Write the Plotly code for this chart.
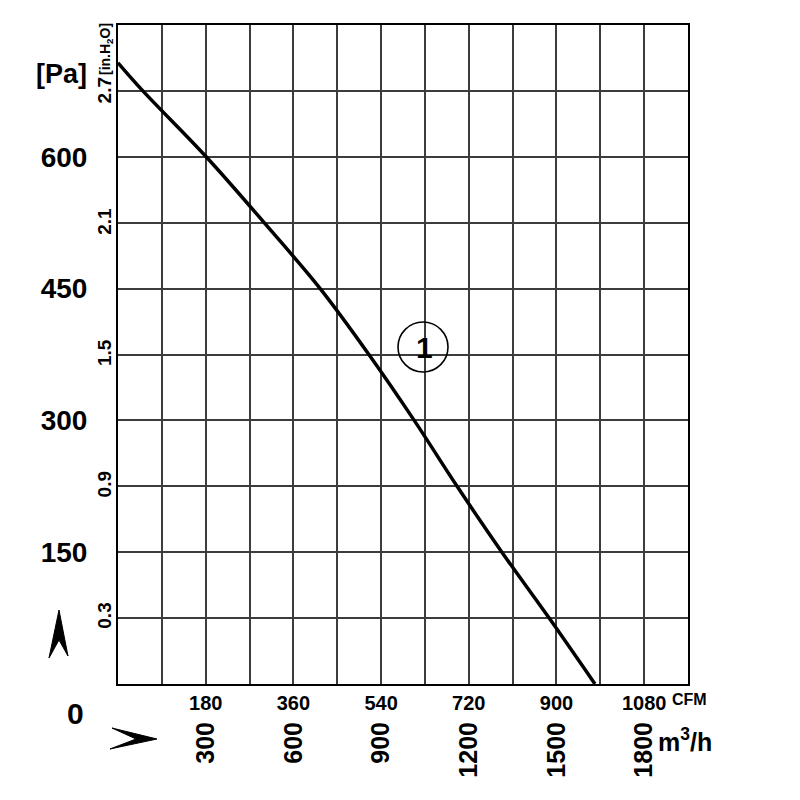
import plotly.graph_objects as go

# ---- data ----
airflow_cfm = [0, 51, 181, 300, 415, 515, 608, 696, 788, 885, 979]
pressure_pa = [707, 675, 600, 525, 450, 375, 300, 225, 150, 75, 0]

cfm_ticks = [180, 360, 540, 720, 900, 1080]
m3h_ticks = [300, 600, 900, 1200, 1500, 1800]
pa_ticks = [150, 300, 450, 600]
inh2o_ticks = [0.3, 0.9, 1.5, 2.1, 2.7]

X_MAX_CFM = 1170
X_MAX_M3H = 1950
Y_MAX_PA = 750
PA_PER_INH2O = 249.089

FONT = "Liberation Sans, Arial, sans-serif"

# plot area in screen pixels (page has an 8px body margin)
OFF = 8
L, R, T, B = 118, 688, 25, 684
W, H = R - L, B - T


def px(x):
    return (x - L) / W


def py(y):
    return (B - y) / H


fig = go.Figure()
fig.add_trace(go.Scatter(
    x=airflow_cfm, y=pressure_pa, mode="lines",
    line=dict(color="black", width=3.5, shape="spline", smoothing=1.0),
    showlegend=False, hoverinfo="skip",
))
# invisible traces to activate secondary axes
fig.add_trace(go.Scatter(x=[0], y=[0], xaxis="x2", yaxis="y", mode="markers",
                         marker=dict(opacity=0), showlegend=False, hoverinfo="skip"))
fig.add_trace(go.Scatter(x=[0], y=[0], xaxis="x", yaxis="y2", mode="markers",
                         marker=dict(opacity=0), showlegend=False, hoverinfo="skip"))

grid_col = "#3c3c3c"
fig.update_layout(
    width=800, height=800,
    margin=dict(l=L - OFF, r=800 - (R - OFF), t=T - OFF, b=800 - (B - OFF)),
    paper_bgcolor="white", plot_bgcolor="white",
    xaxis=dict(
        range=[0, X_MAX_CFM], tickvals=cfm_ticks, ticktext=[str(v) for v in cfm_ticks],
        ticks="", showgrid=False, zeroline=False, showline=True, linecolor="black",
        linewidth=2, mirror=True, ticklabelstandoff=0, automargin=False,
        tickfont=dict(family=FONT, size=20, color="black", weight=700),
        minor=dict(dtick=90, showgrid=True, gridcolor=grid_col, gridwidth=2, ticks=""),
    ),
    xaxis2=dict(
        overlaying="x", side="bottom", range=[0, X_MAX_M3H], tickvals=m3h_ticks,
        ticktext=[str(v) for v in m3h_ticks], tickangle=-90, ticks="",
        showgrid=False, zeroline=False, showline=False, ticklabelstandoff=32,
        automargin=False,
        tickfont=dict(family=FONT, size=25, color="black", weight=700),
    ),
    yaxis=dict(
        range=[0, Y_MAX_PA], tickvals=pa_ticks, ticktext=[str(v) for v in pa_ticks],
        ticks="", showgrid=False, zeroline=False, showline=True, linecolor="black",
        linewidth=2, mirror=True, ticklabelstandoff=23, automargin=False,
        tickfont=dict(family=FONT, size=28, color="black", weight=700),
        minor=dict(dtick=75, showgrid=True, gridcolor=grid_col, gridwidth=2, ticks=""),
    ),
    yaxis2=dict(
        overlaying="y", side="left", range=[0, Y_MAX_PA / PA_PER_INH2O],
        tickvals=inh2o_ticks, ticktext=[str(v) for v in inh2o_ticks], tickangle=-90,
        ticks="", showgrid=False, zeroline=False, showline=False, ticklabelstandoff=2,
        automargin=False,
        tickfont=dict(family=FONT, size=19, color="black", weight=700),
    ),
)

anns = [
    dict(text="[Pa]", x=px(61), y=py(74), size=27),
    dict(text="0", x=px(75), y=py(713), size=30),
    dict(text="CFM", x=px(689), y=py(699), size=16),
    dict(text="m<sup>3</sup>/h", x=px(685), y=py(740), size=25),
    dict(text="1", x=px(424), y=py(347), size=30),
]
for a in anns:
    fig.add_annotation(xref="paper", yref="paper", x=a["x"], y=a["y"], text=a["text"],
                       showarrow=False, xanchor="center", yanchor="middle",
                       font=dict(family=FONT, size=a["size"], color="black", weight=700))
fig.add_annotation(xref="paper", yref="paper", x=px(106), y=py(49),
                   text="[in.H<sub>2</sub>O]", textangle=-90, showarrow=False,
                   xanchor="center", yanchor="middle",
                   font=dict(family=FONT, size=14, color="black", weight=700))

# circle around the curve label
fig.add_shape(type="circle", xref="paper", yref="paper",
              x0=px(398), x1=px(448), y0=py(322), y1=py(372),
              line=dict(color="black", width=1.6))


def path(points):
    s = "M " + " L ".join(f"{px(a):.5f},{py(b):.5f}" for a, b in points) + " Z"
    return s


# chevron arrows
fig.add_shape(type="path", xref="paper", yref="paper",
              path=path([(59, 610), (68, 656), (59, 640), (49, 658)]),
              fillcolor="black", line=dict(color="black", width=1))
fig.add_shape(type="path", xref="paper", yref="paper",
              path=path([(157, 739), (112, 728), (136, 739), (110, 749)]),
              fillcolor="black", line=dict(color="black", width=1))

fig.write_html("out.html")
